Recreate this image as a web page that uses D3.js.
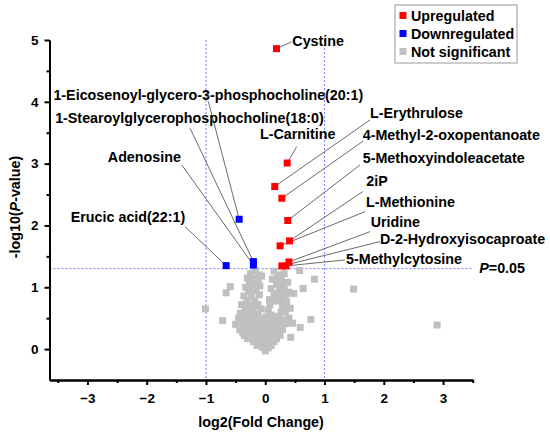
<!DOCTYPE html>
<html>
<head>
<meta charset="utf-8">
<script src="https://cdn.jsdelivr.net/npm/d3@7/dist/d3.min.js"></script>
<style>
  html, body { margin: 0; padding: 0; background: #fff; }
  svg { display: block; }
  text { font-family: "Liberation Sans", Arial, sans-serif; font-weight: bold; fill: #000; }
</style>
</head>
<body>
<svg id="chart" width="550" height="437"></svg>
<script>
// ---------------- DATA ----------------
const upNames = ["Cystine", "L-Carnitine", "L-Erythrulose", "4-Methyl-2-oxopentanoate",
  "5-Methoxyindoleacetate", "2iP", "L-Methionine", "Uridine",
  "D-2-Hydroxyisocaproate", "5-Methylcytosine"];
const upX = [0.19, 0.37, 0.16, 0.28, 0.38, 0.41, 0.25, 0.40, 0.28, 0.35];
const upY = [4.86, 3.01, 2.63, 2.44, 2.08, 1.75, 1.67, 1.41, 1.345, 1.345];

const downNames = ["1-Eicosenoyl-glycero-3-phosphocholine(20:1)",
  "1-Stearoylglycerophosphocholine(18:0)", "Adenosine", "Erucic acid(22:1)"];
const downX = [-0.44, -0.20, -0.20, -0.66];
const downY = [2.10, 1.415, 1.36, 1.35];

// not significant metabolites (log2FC, -log10 P)
const nsX = [
  -1.01, -0.72, -0.59, -0.66, 0.83, 0.64, 0.58, 0.77, 0.59, 0.43, 0.48, 1.49, 2.90,
  -0.17, -0.25, -0.10, -0.30, -0.18, -0.06, -0.27, -0.14, -0.33, -0.21, -0.09, -0.28, -0.16,
  -0.36, -0.23, -0.10, -0.31, -0.18, -0.40, -0.26, -0.12, -0.34, -0.20, -0.07, -0.29, -0.15, -0.42,
  0.15, 0.22, 0.32, 0.12, 0.27, 0.38, 0.19, 0.32, 0.10, 0.25, 0.40, 0.15, 0.30, 0.07, 0.21,
  0.36, 0.08, 0.29, 0.05, 0.27, 0.34, 0.42, 0.10, 0.24,
  -0.45, -0.33, -0.21, -0.09, 0.02, 0.15, 0.29, 0.40,
  -0.50, -0.38, -0.26, -0.14, -0.02, 0.10, 0.22, 0.34, 0.46,
  -0.43, -0.31, -0.19, -0.07, 0.05, 0.17, 0.29,
  -0.35, -0.23, -0.11, 0.01, 0.13, 0.25,
  -0.20, -0.08, 0.04, 0.15,
  -0.05, 0.05, 0.00,
  -0.28, -0.16, -0.04, 0.08, 0.20, -0.38, -0.26, -0.14, -0.02, 0.10, 0.22,
  -0.30, -0.17, -0.05, 0.07, 0.19, -0.14, -0.02, 0.10,
  -0.39, -0.27, -0.15, -0.03, 0.09, 0.21, 0.33, -0.38, -0.24, -0.12, 0.20,
  -0.22, -0.12, -0.24, -0.30, -0.17, -0.25,
  0.20, 0.30, 0.24, 0.20, 0.35, 0.25, 0.14, 0.32
];
const nsY = [
  0.65, 0.46, 1.01, 0.91, 1.13, 0.98, 1.27, 0.48, 0.35, 0.19, 0.90, 0.97, 0.39,
  1.27, 1.22, 1.20, 1.15, 1.15, 1.18, 1.08, 1.07, 1.00, 1.00, 1.02, 0.93, 0.94,
  0.86, 0.86, 0.88, 0.79, 0.78, 0.72, 0.71, 0.72, 0.64, 0.63, 0.65, 0.57, 0.56, 0.58,
  1.26, 1.20, 1.22, 1.13, 1.12, 1.08, 1.05, 1.00, 0.98, 0.93, 0.92, 0.87, 0.84, 0.80, 0.78,
  0.76, 0.72, 0.68, 0.63, 0.60, 0.60, 0.66, 0.55, 0.53,
  0.50, 0.48, 0.49, 0.50, 0.52, 0.48, 0.47, 0.50,
  0.40, 0.40, 0.41, 0.40, 0.42, 0.40, 0.39, 0.41, 0.42,
  0.31, 0.30, 0.31, 0.30, 0.31, 0.30, 0.32,
  0.22, 0.21, 0.20, 0.21, 0.20, 0.22,
  0.12, 0.11, 0.12, 0.12,
  0.03, 0.02, -0.03,
  0.36, 0.35, 0.36, 0.35, 0.35, 0.26, 0.26, 0.26, 0.25, 0.26, 0.27,
  0.17, 0.16, 0.16, 0.16, 0.17, 0.06, 0.07, 0.06,
  0.45, 0.45, 0.45, 0.46, 0.45, 0.44, 0.45, 0.53, 0.53, 0.55, 0.53,
  1.12, 1.13, 0.95, 0.70, 0.70, 0.60,
  1.14, 1.06, 0.99, 0.90, 0.88, 0.80, 0.78, 0.70
];

const xTicks = [-3, -2, -1, 0, 1, 2, 3];
const xMinorTicks = [-3.5, -2.5, -1.5, -0.5, 0.5, 1.5, 2.5, 3.5];
const yTicks = [0, 1, 2, 3, 4, 5];
const yMinorTicks = [0.5, 1.5, 2.5, 3.5, 4.5];
const fcCutoff = 1;
const pCutoff = 0.05;
const legendLabels = ["Upregulated", "Downregulated", "Not significant"];

// annotation layout (data units): text start x, baseline y, leader start x, y
const upLabelLayout = [
  [0.457, 4.905, 0.444, 4.97],
  [-0.088, 3.395, 0.531, 3.275],
  [1.768, 3.735, 1.768, 3.707],
  [1.644, 3.388, 1.655, 3.367],
  [1.644, 3.016, 1.599, 2.979],
  [1.705, 2.631, 1.644, 2.547],
  [1.700, 2.294, 1.683, 2.223],
  [1.779, 1.981, 1.768, 1.900],
  [1.936, 1.701, 1.936, 1.738],
  [1.363, 1.382, 1.346, 1.442]
];
const downLabelLayout = [
  [-3.574, 4.026, -0.960, 4.006],
  [-3.545, 3.663, -1.268, 3.573],
  [-2.656, 3.032, -1.408, 2.979],
  [-3.281, 2.052, -1.353, 1.981]
];
const pLabelPos = [3.611, 1.231];

// ---------------- CHART ----------------
const colors = { up: "#ff0000", down: "#0000ff", ns: "#c0c0c0" };
const svg = d3.select("#chart");
const x = d3.scaleLinear().domain([-3.64, 3.5]).range([49.5, 472.7]);
const y = d3.scaleLinear().domain([-0.5, 5]).range([380, 40]);
const S = 7; // marker size
const FS = 14.3;

// threshold lines
const thr = svg.append("g").attr("stroke", "#7b7bff").attr("stroke-width", 1)
  .attr("stroke-dasharray", "2,2").attr("fill", "none");
[-fcCutoff, fcCutoff].forEach(v => {
  thr.append("line").attr("x1", x(v)).attr("x2", x(v))
    .attr("y1", y(5)).attr("y2", y(-0.5));
});
const pLine = -Math.log10(pCutoff);
thr.append("line").attr("x1", x(-3.64)).attr("x2", x(3.5))
  .attr("y1", y(pLine)).attr("y2", y(pLine));

// non-significant points
const ns = nsX.map((v, i) => ({ x: v, y: nsY[i] }));
svg.append("g").selectAll("rect").data(ns).join("rect")
  .attr("x", d => x(d.x) - S / 2).attr("y", d => y(d.y) - S / 2)
  .attr("width", S).attr("height", S).attr("fill", colors.ns);

// leader lines
const up = upNames.map((n, i) => ({ name: n, x: upX[i], y: upY[i], lay: upLabelLayout[i] }));
const down = downNames.map((n, i) => ({ name: n, x: downX[i], y: downY[i], lay: downLabelLayout[i] }));
const all = up.concat(down);
svg.append("g").attr("stroke", "#444").attr("stroke-width", 0.8)
  .selectAll("line").data(all).join("line")
  .attr("x1", d => x(d.lay[2])).attr("y1", d => y(d.lay[3]))
  .attr("x2", d => x(d.x)).attr("y2", d => y(d.y));

// significant points
svg.append("g").selectAll("rect").data(down).join("rect")
  .attr("x", d => x(d.x) - S / 2).attr("y", d => y(d.y) - S / 2)
  .attr("width", S).attr("height", S).attr("fill", colors.down);
svg.append("g").selectAll("rect").data(up).join("rect")
  .attr("x", d => x(d.x) - S / 2).attr("y", d => y(d.y) - S / 2)
  .attr("width", S).attr("height", S).attr("fill", colors.up);

// labels
svg.append("g").attr("font-size", FS).selectAll("text").data(all).join("text")
  .attr("x", d => x(d.lay[0])).attr("y", d => y(d.lay[1]))
  .text(d => d.name);

const pt = svg.append("text").attr("font-size", FS)
  .attr("x", x(pLabelPos[0])).attr("y", y(pLabelPos[1]));
pt.append("tspan").attr("font-style", "italic").text("P");
pt.append("tspan").text("=" + pCutoff.toFixed(2));

// axes
function styleAxis(g) {
  g.select(".domain").attr("stroke", "#000").attr("stroke-width", 2);
  g.selectAll(".tick line").attr("stroke", "#000").attr("stroke-width", 2);
  g.selectAll("text").attr("font-size", 13.5).attr("fill", "#000")
    .attr("font-family", '"Liberation Sans", Arial, sans-serif').attr("font-weight", "bold");
}
const fmt = d => (d < 0 ? "\u2212" + Math.abs(d) : String(d));
svg.append("g").attr("transform", "translate(0,380)")
  .call(d3.axisBottom(x).tickValues(xMinorTicks).tickSize(3).tickSizeOuter(0).tickFormat(""))
  .call(styleAxis);
svg.append("g").attr("transform", "translate(0,380)")
  .call(d3.axisBottom(x).tickValues(xTicks).tickSize(5).tickSizeOuter(0).tickPadding(8).tickFormat(fmt))
  .call(styleAxis);
svg.append("g").attr("transform", "translate(49.5,0)")
  .call(d3.axisLeft(y).tickValues(yMinorTicks).tickSize(3).tickSizeOuter(0).tickFormat(""))
  .call(styleAxis);
svg.append("g").attr("transform", "translate(49.5,0)")
  .call(d3.axisLeft(y).tickValues(yTicks).tickSize(5).tickSizeOuter(0).tickPadding(6).tickFormat(fmt))
  .call(styleAxis);

// axis titles
svg.append("text").attr("font-size", FS).attr("text-anchor", "middle")
  .attr("x", (x.range()[0] + x.range()[1]) / 2).attr("y", 427)
  .text("log2(Fold Change)");
const yt = svg.append("text").attr("font-size", FS).attr("text-anchor", "middle")
  .attr("transform", `translate(20,${(y.range()[0] + y.range()[1]) / 2 - 3}) rotate(-90)`);
yt.append("tspan").text("-log10(");
yt.append("tspan").attr("font-style", "italic").text("P");
yt.append("tspan").text("-value)");

// legend
const lg = svg.append("g").attr("transform", "translate(395,5)");
lg.append("rect").attr("width", 122).attr("height", 58)
  .attr("fill", "#fff").attr("stroke", "#999").attr("stroke-width", 1);
const legendColors = [colors.up, colors.down, colors.ns];
legendLabels.forEach((l, i) => {
  lg.append("rect").attr("x", 4.5).attr("y", 7 + i * 18).attr("width", S).attr("height", S)
    .attr("fill", legendColors[i]);
  lg.append("text").attr("x", 16).attr("y", 15.5 + i * 18).attr("font-size", FS).text(l);
});
</script>
</body>
</html>
